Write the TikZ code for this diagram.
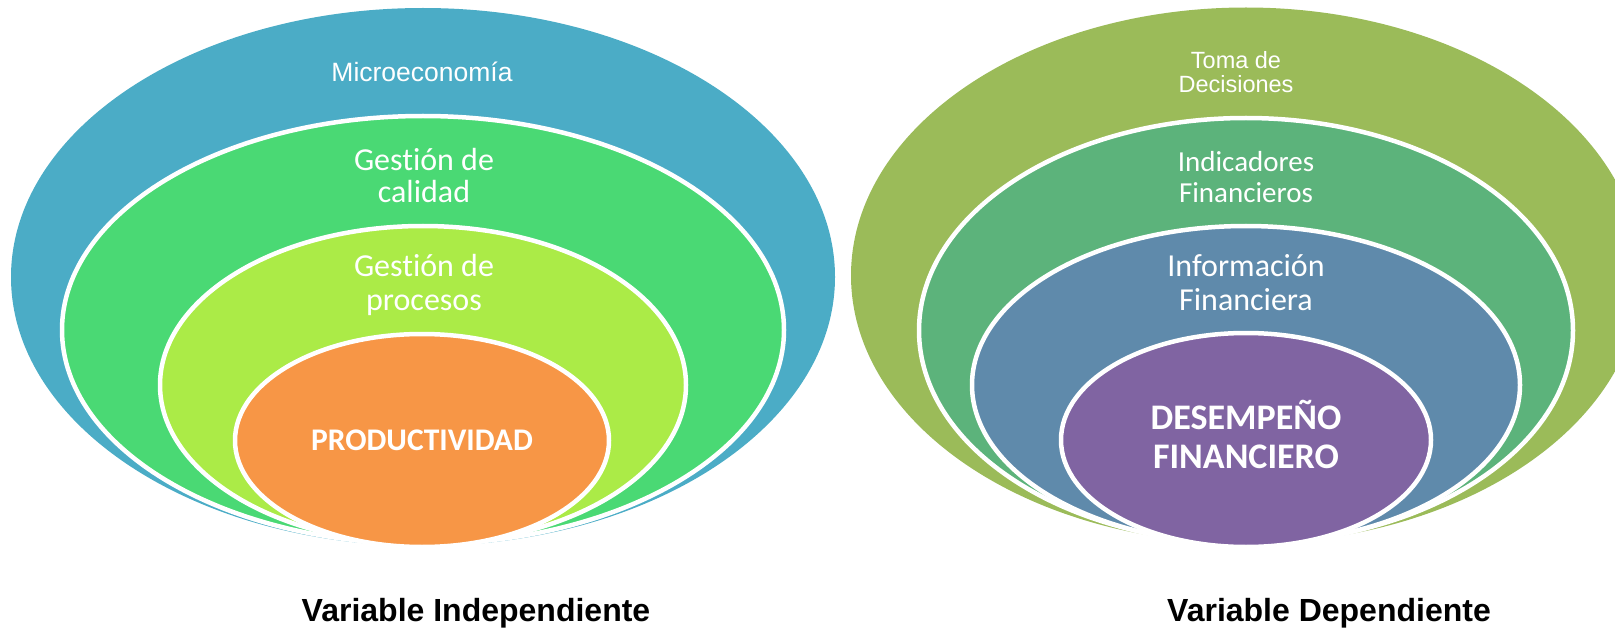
\documentclass[tikz,border=0pt]{standalone}
\usepackage{fontspec}
\usetikzlibrary{shapes.geometric}
\newfontfamily\arialf{Liberation Sans}
\newfontfamily\calf[Ligatures=NoCommon]{Carlito}

\definecolor{cBlue}{HTML}{4BACC6}
\definecolor{cGreen}{HTML}{4AD974}
\definecolor{cLime}{HTML}{ABEB47}
\definecolor{cOrange}{HTML}{F79646}
\definecolor{cOlive}{HTML}{9BBB59}
\definecolor{cSea}{HTML}{5CB37B}
\definecolor{cSteel}{HTML}{5F8AAB}
\definecolor{cPurple}{HTML}{8064A2}

\tikzset{
  disc/.style={ellipse, inner sep=0pt, outer sep=0pt, draw=none},
  ring/.style={ellipse, inner sep=0pt, outer sep=0pt, draw=white, line width=4.5pt},
  lbl/.style={text=white, align=center, anchor=base, inner sep=0pt},
  caption/.style={text=black, anchor=base, inner sep=0pt, font=\arialf\bfseries\fontsize{32}{32}\selectfont}
}

\begin{document}
\begin{tikzpicture}[x=1pt,y=-1pt]
\useasboundingbox (0,0) rectangle (1615,631);

% independent variable: nested rings
\node[disc, fill=cBlue,   minimum width=824pt, minimum height=538pt] (micro) at (423,277) {};
\node[ring, fill=cGreen,  minimum width=722pt, minimum height=428pt] (calidad) at (423,330) {};
\node[ring, fill=cLime,   minimum width=526pt, minimum height=318pt] (procesos) at (423,385) {};
\node[ring, fill=cOrange, minimum width=374pt, minimum height=213pt] (prod) at (422,440.5) {};

% labels (base = baseline of the last line)
\node[lbl, font=\arialf\fontsize{26.5}{26.5}\selectfont] (tmicro) at (422,81.7) {Microeconomía};
\node[lbl, font=\calf\fontsize{32}{32}\selectfont] (tcalidad) at (424,203) {Gestión de\\calidad};
\node[lbl, font=\calf\fontsize{32}{34}\selectfont] (tprocesos) at (424,310) {Gestión de\\procesos};
\node[lbl, font=\calf\bfseries\fontsize{31.5}{31.5}\selectfont] (tprod) at (422,450) {PRODUCTIVIDAD};

% dependent variable: nested rings
\node[disc, fill=cOlive,  minimum width=790pt, minimum height=536pt] (toma) at (1246,275.5) {};
\node[ring, fill=cSea,    minimum width=654pt, minimum height=425pt] (indic) at (1246,330.5) {};
\node[ring, fill=cSteel,  minimum width=548pt, minimum height=318pt] (info) at (1246,385) {};
\node[ring, fill=cPurple, minimum width=370pt, minimum height=214pt] (desem) at (1246,440) {};

\node[lbl, font=\arialf\fontsize{23.5}{24}\selectfont] (ttoma) at (1236,92.3) {Toma de\\Decisiones};
\node[lbl, font=\calf\fontsize{29}{31.5}\selectfont] (tindic) at (1246,203) {Indicadores\\Financieros};
\node[lbl, font=\calf\fontsize{32}{34}\selectfont] (tinfo) at (1246,310) {Información\\Financiera};
\node[lbl, font=\calf\bfseries\fontsize{36}{39}\selectfont] (tdesem) at (1246,468.5) {DESEMPEÑO\\FINANCIERO};

% captions
\node[caption] (capind) at (476,621) {Variable Independiente};
\node[caption] (capdep) at (1329,621) {Variable Dependiente};
\end{tikzpicture}
\end{document}
